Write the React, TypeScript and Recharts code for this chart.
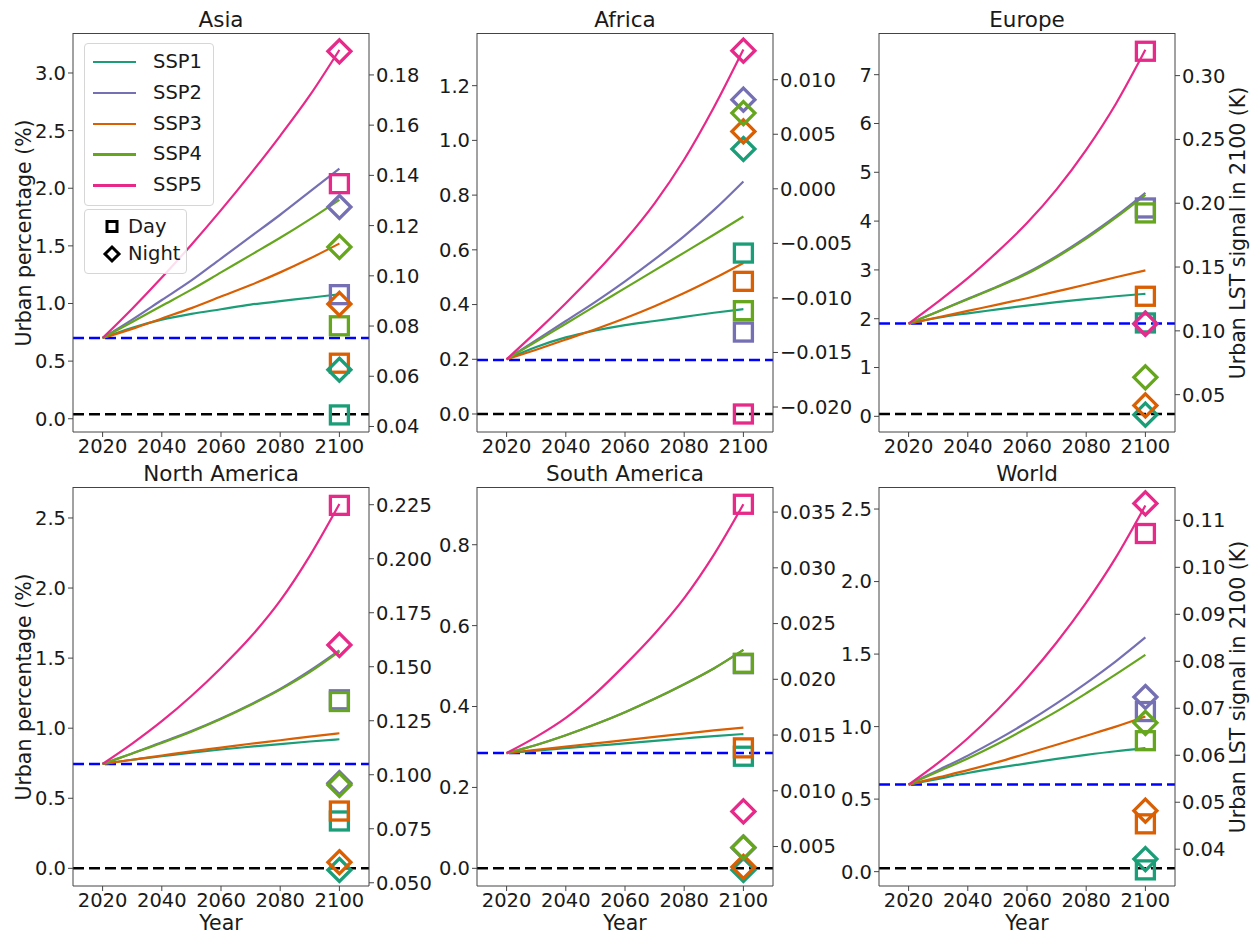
import React from "react";
import {
  ComposedChart,
  Line,
  Scatter,
  XAxis,
  YAxis,
  ReferenceLine,
} from "recharts";

const years = [2020, 2030, 2040, 2050, 2060, 2070, 2080, 2090, 2100];
const sspNames = ["SSP1", "SSP2", "SSP3", "SSP4", "SSP5"];
const sspColors = ["#1b9e77", "#7570b3", "#d95f02", "#66a61e", "#e7298a"];
const xTicks = [2020, 2040, 2060, 2080, 2100];

// urban percentage (%) per SSP, one row per SSP, 2020..2100 every 10 yr
const asiaUrban = [
  [0.7, 0.79, 0.86, 0.91, 0.95, 0.99, 1.02, 1.05, 1.08],
  [0.7, 0.86, 1.03, 1.2, 1.39, 1.58, 1.77, 1.97, 2.17],
  [0.7, 0.78, 0.87, 0.96, 1.06, 1.16, 1.27, 1.39, 1.52],
  [0.7, 0.84, 0.98, 1.12, 1.27, 1.42, 1.57, 1.73, 1.9],
  [0.7, 0.955, 1.225, 1.51, 1.81, 2.125, 2.455, 2.805, 3.2],
];
const asiaDay = [0.0446, 0.0925, 0.0652, 0.0801, 0.1367];
const asiaNight = [0.0626, 0.1274, 0.0888, 0.1115, 0.1894];

const africaUrban = [
  [0.2, 0.245, 0.28, 0.305, 0.325, 0.34, 0.355, 0.37, 0.383],
  [0.2, 0.27, 0.34, 0.41, 0.485, 0.565, 0.65, 0.745, 0.85],
  [0.2, 0.235, 0.272, 0.31, 0.35, 0.394, 0.442, 0.495, 0.552],
  [0.2, 0.265, 0.33, 0.395, 0.46, 0.525, 0.59, 0.655, 0.722],
  [0.2, 0.3, 0.405, 0.515, 0.635, 0.77, 0.93, 1.12, 1.332],
];
const africaDay = [-0.00589, -0.01313, -0.00848, -0.01117, -0.02064];
const africaNight = [0.00365, 0.00817, 0.00526, 0.00694, 0.01266];

const europeUrban = [
  [1.9, 2.02, 2.11, 2.19, 2.27, 2.34, 2.4, 2.46, 2.51],
  [1.9, 2.15, 2.41, 2.66, 2.94, 3.28, 3.67, 4.1, 4.58],
  [1.9, 2.03, 2.16, 2.29, 2.42, 2.56, 2.7, 2.85, 2.99],
  [1.9, 2.15, 2.4, 2.65, 2.92, 3.26, 3.64, 4.07, 4.54],
  [1.9, 2.35, 2.83, 3.37, 3.96, 4.65, 5.46, 6.4, 7.51],
];
const europeDay = [0.1062, 0.1963, 0.1271, 0.1924, 0.3191];
const europeNight = [0.0343, 0.1056, 0.0416, 0.0636, 0.1056];

const northAmUrban = [
  [0.745, 0.775, 0.8, 0.825, 0.848, 0.868, 0.887, 0.905, 0.921],
  [0.745, 0.82, 0.9, 0.98, 1.07, 1.17, 1.28, 1.41, 1.555],
  [0.745, 0.775, 0.805, 0.835, 0.862, 0.889, 0.914, 0.94, 0.964],
  [0.745, 0.82, 0.895, 0.975, 1.065, 1.165, 1.275, 1.4, 1.548],
  [0.745, 0.89, 1.05, 1.23, 1.43, 1.65, 1.91, 2.23, 2.6],
];
const northAmDay = [0.0786, 0.1347, 0.0832, 0.1339, 0.2247];
const northAmNight = [0.0559, 0.0961, 0.0595, 0.0953, 0.1601];

const southAmUrban = [
  [0.285, 0.291, 0.297, 0.303, 0.309, 0.315, 0.321, 0.327, 0.332],
  [0.285, 0.305, 0.329, 0.356, 0.386, 0.419, 0.455, 0.494, 0.54],
  [0.285, 0.293, 0.301, 0.309, 0.317, 0.325, 0.333, 0.341, 0.348],
  [0.285, 0.305, 0.329, 0.356, 0.386, 0.419, 0.455, 0.494, 0.54],
  [0.285, 0.325, 0.372, 0.432, 0.503, 0.58, 0.668, 0.775, 0.9],
];
const southAmDay = [0.0131, 0.0214, 0.01385, 0.02144, 0.0357];
const southAmNight = [0.0029, 0.0049, 0.00317, 0.00491, 0.00815];

const worldUrban = [
  [0.6, 0.64, 0.68, 0.715, 0.747, 0.777, 0.805, 0.83, 0.851],
  [0.6, 0.7, 0.8, 0.91, 1.03, 1.16, 1.3, 1.45, 1.615],
  [0.6, 0.65, 0.7, 0.755, 0.815, 0.875, 0.937, 1.0, 1.07],
  [0.6, 0.69, 0.78, 0.88, 0.99, 1.105, 1.23, 1.36, 1.495],
  [0.6, 0.75, 0.92, 1.115, 1.335, 1.58, 1.855, 2.165, 2.525],
];
const worldDay = [0.0356, 0.0693, 0.0454, 0.0631, 0.1072];
const worldNight = [0.0379, 0.0724, 0.0482, 0.0669, 0.1136];

// tick values
const asiaLeftTicks = [0, 0.5, 1, 1.5, 2, 2.5, 3];
const asiaRightTicks = [0.04, 0.06, 0.08, 0.1, 0.12, 0.14, 0.16, 0.18];
const africaLeftTicks = [0, 0.2, 0.4, 0.6, 0.8, 1.0, 1.2];
const africaRightTicks = [-0.02, -0.015, -0.01, -0.005, 0, 0.005, 0.01];
const europeLeftTicks = [0, 1, 2, 3, 4, 5, 6, 7];
const europeRightTicks = [0.05, 0.1, 0.15, 0.2, 0.25, 0.3];
const northAmLeftTicks = [0, 0.5, 1, 1.5, 2, 2.5];
const northAmRightTicks = [0.05, 0.075, 0.1, 0.125, 0.15, 0.175, 0.2, 0.225];
const southAmLeftTicks = [0, 0.2, 0.4, 0.6, 0.8];
const southAmRightTicks = [0.005, 0.01, 0.015, 0.02, 0.025, 0.03, 0.035];
const worldLeftTicks = [0, 0.5, 1, 1.5, 2, 2.5];
const worldRightTicks = [0.04, 0.05, 0.06, 0.07, 0.08, 0.09, 0.1, 0.11];

const FONT = "'DejaVu Sans', sans-serif";
const INK = "#1a1a1a";
const FRAME = "#444";
const PAD_L = 75;
const PAD_R = 85;
const PAD_T = 10;
const X_H = 40;
const FW = 296;
const FH = 399;

const fmt = (d: number) => (v: number) => {
  const s = Math.abs(v).toFixed(d);
  return v < -1e-9 ? "\u2212" + s : s;
};

const SquareShape = (props: any) => {
  const { cx, cy, payload } = props;
  const h = 9;
  return (
    <rect x={cx - h} y={cy - h} width={2 * h} height={2 * h} fill="none"
      stroke={payload.c} strokeWidth={3.3} />
  );
};

const DiamondShape = (props: any) => {
  const { cx, cy, payload } = props;
  const h = 11.5;
  return (
    <polygon
      points={`${cx},${cy - h} ${cx + h},${cy} ${cx},${cy + h} ${cx - h},${cy}`}
      fill="none" stroke={payload.c} strokeWidth={3.3} strokeLinejoin="miter" />
  );
};

interface PanelProps {
  title: string;
  fx: number;
  fy: number;
  urban: number[][];
  day: number[];
  night: number[];
  leftDomain: [number, number];
  rightDomain: [number, number];
  leftTicks: number[];
  rightTicks: number[];
  leftDigits: number;
  rightDigits: number;
  base: number;
  zero: number;
}

const Panel: React.FC<PanelProps> = (p) => {
  const tickStyle = { fontSize: 19.5, fill: INK, fontFamily: FONT };
  return (
    <>
      <div style={{ position: "absolute", left: p.fx + FW / 2, top: p.fy - 13,
        transform: "translate(-50%, -50%)", fontSize: 21.5, fontFamily: FONT,
        color: INK, whiteSpace: "nowrap", lineHeight: 1 }}>
        {p.title}
      </div>
      <div style={{ position: "absolute", left: p.fx - PAD_L, top: p.fy - PAD_T }}>
        <ComposedChart width={PAD_L + FW + PAD_R} height={PAD_T + FH + X_H}
          margin={{ top: PAD_T, right: 0, bottom: 0, left: 0 }}>
          <XAxis type="number" dataKey="x" domain={[2010, 2110]} ticks={xTicks}
            allowDataOverflow interval={0} height={X_H} tick={tickStyle}
            tickSize={5} axisLine={{ stroke: FRAME }} tickLine={{ stroke: FRAME }} />
          <YAxis yAxisId="left" dataKey="v" type="number" domain={p.leftDomain}
            ticks={p.leftTicks} allowDataOverflow interval={0} width={PAD_L}
            tick={tickStyle} tickSize={5} tickFormatter={fmt(p.leftDigits)}
            axisLine={{ stroke: FRAME }} tickLine={{ stroke: FRAME }} />
          <YAxis yAxisId="right" orientation="right" dataKey="v" type="number"
            domain={p.rightDomain} ticks={p.rightTicks} allowDataOverflow interval={0}
            width={PAD_R} tick={tickStyle} tickSize={5} tickFormatter={fmt(p.rightDigits)}
            axisLine={{ stroke: FRAME }} tickLine={{ stroke: FRAME }} />
          <ReferenceLine yAxisId="left" y={p.base} stroke="#0000ff" strokeWidth={2.5}
            strokeDasharray="11 5" />
          <ReferenceLine yAxisId="left" y={p.zero} stroke="#000" strokeWidth={2.5}
            strokeDasharray="11 5" />
          {p.urban.map((row, i) => (
            <Line key={sspNames[i]} yAxisId="left" type="monotone" dataKey="v"
              data={years.map((yr, j) => ({ x: yr, v: row[j] }))}
              stroke={sspColors[i]} strokeWidth={2.2} dot={false}
              isAnimationActive={false} />
          ))}
          <Scatter yAxisId="right" dataKey="v"
            data={p.day.map((v, i) => ({ x: 2100, v, c: sspColors[i] }))}
            shape={SquareShape} isAnimationActive={false} />
          <Scatter yAxisId="right" dataKey="v"
            data={p.night.map((v, i) => ({ x: 2100, v, c: sspColors[i] }))}
            shape={DiamondShape} isAnimationActive={false} />
        </ComposedChart>
      </div>
      {/* top spine */}
      <div style={{ position: "absolute", left: p.fx, top: p.fy - 0.5, width: FW,
        height: 1, background: FRAME }} />
    </>
  );
};

const VLabel: React.FC<{ x: number; y: number; text: string }> = ({ x, y, text }) => (
  <div style={{ position: "absolute", left: x, top: y,
    transform: "translate(-50%, -50%) rotate(-90deg)", fontSize: 20.5,
    fontFamily: FONT, color: INK, whiteSpace: "nowrap", lineHeight: 1 }}>
    {text}
  </div>
);

const XLabel: React.FC<{ x: number; y: number }> = ({ x, y }) => (
  <div style={{ position: "absolute", left: x, top: y,
    transform: "translate(-50%, -50%)", fontSize: 20.5, fontFamily: FONT,
    color: INK, whiteSpace: "nowrap", lineHeight: 1 }}>
    Year
  </div>
);

const Legends: React.FC = () => {
  const box = {
    position: "absolute" as const,
    background: "rgba(255,255,255,0.85)",
    border: "1px solid #d6d6d6",
    borderRadius: 4,
  };
  const text = {
    position: "absolute" as const,
    fontSize: 19.5,
    fontFamily: FONT,
    color: INK,
    lineHeight: 1,
    transform: "translateY(-50%)",
    whiteSpace: "nowrap" as const,
  };
  return (
    <>
      <div style={{ ...box, left: 84, top: 43, width: 128, height: 161 }}>
        {sspNames.map((n, i) => (
          <React.Fragment key={n}>
            <div style={{ position: "absolute", left: 8, top: 18 + i * 30.8 - 1,
              width: 43, height: 2.4, background: sspColors[i] }} />
            <div style={{ ...text, left: 68, top: 18 + i * 30.8 }}>{n}</div>
          </React.Fragment>
        ))}
      </div>
      <div style={{ ...box, left: 84, top: 209, width: 101, height: 63 }}>
        <svg style={{ position: "absolute", left: 0, top: 0 }} width={40} height={63}>
          <rect x={22} y={11.5} width={10} height={10} fill="none" stroke="#000"
            strokeWidth={3} />
          <polygon points="27,37 34,44 27,51 20,44" fill="none" stroke="#000"
            strokeWidth={3} />
        </svg>
        <div style={{ ...text, left: 43, top: 16.5 }}>Day</div>
        <div style={{ ...text, left: 43, top: 44 }}>Night</div>
      </div>
    </>
  );
};

const App: React.FC = () => {
  return (
    <div style={{ position: "absolute", left: 0, top: 0, width: 1256, height: 935,
      background: "#fff", overflow: "hidden" }}>
      <Panel title="Asia" fx={73} fy={33} urban={asiaUrban} day={asiaDay}
        night={asiaNight} leftDomain={[-0.115, 3.347]} rightDomain={[0.0378, 0.1967]}
        leftTicks={asiaLeftTicks} rightTicks={asiaRightTicks} leftDigits={1}
        rightDigits={2} base={0.7} zero={0.04} />
      <Panel title="Africa" fx={477} fy={33} urban={africaUrban} day={africaDay}
        night={africaNight} leftDomain={[-0.0658, 1.3925]}
        rightDomain={[-0.02229, 0.01428]} leftTicks={africaLeftTicks}
        rightTicks={africaRightTicks} leftDigits={1} rightDigits={3} base={0.197}
        zero={0} />
      <Panel title="Europe" fx={879} fy={33} urban={europeUrban} day={europeDay}
        night={europeNight} leftDomain={[-0.321, 7.854]} rightDomain={[0.02074, 0.3334]}
        leftTicks={europeLeftTicks} rightTicks={europeRightTicks} leftDigits={0}
        rightDigits={2} base={1.9} zero={0.048} />
      <Panel title="North America" fx={73} fy={487} urban={northAmUrban}
        day={northAmDay} night={northAmNight} leftDomain={[-0.126, 2.721]}
        rightDomain={[0.0485, 0.2332]} leftTicks={northAmLeftTicks}
        rightTicks={northAmRightTicks} leftDigits={1} rightDigits={3} base={0.745}
        zero={0} />
      <Panel title="South America" fx={477} fy={487} urban={southAmUrban}
        day={southAmDay} night={southAmNight} leftDomain={[-0.0437, 0.9427]}
        rightDomain={[0.00146, 0.03725]} leftTicks={southAmLeftTicks}
        rightTicks={southAmRightTicks} leftDigits={1} rightDigits={3} base={0.285}
        zero={0} />
      <Panel title="World" fx={879} fy={487} urban={worldUrban} day={worldDay}
        night={worldNight} leftDomain={[-0.099, 2.652]} rightDomain={[0.03217, 0.1171]}
        leftTicks={worldLeftTicks} rightTicks={worldRightTicks} leftDigits={1}
        rightDigits={2} base={0.6} zero={0.023} />
      <VLabel x={24} y={232.5} text="Urban percentage (%)" />
      <VLabel x={24} y={686.5} text="Urban percentage (%)" />
      <VLabel x={1238} y={232.5} text="Urban LST signal in 2100 (K)" />
      <VLabel x={1238} y={686.5} text="Urban LST signal in 2100 (K)" />
      <XLabel x={221} y={923} />
      <XLabel x={625} y={923} />
      <XLabel x={1027} y={923} />
      <Legends />
    </div>
  );
};

export default App;
